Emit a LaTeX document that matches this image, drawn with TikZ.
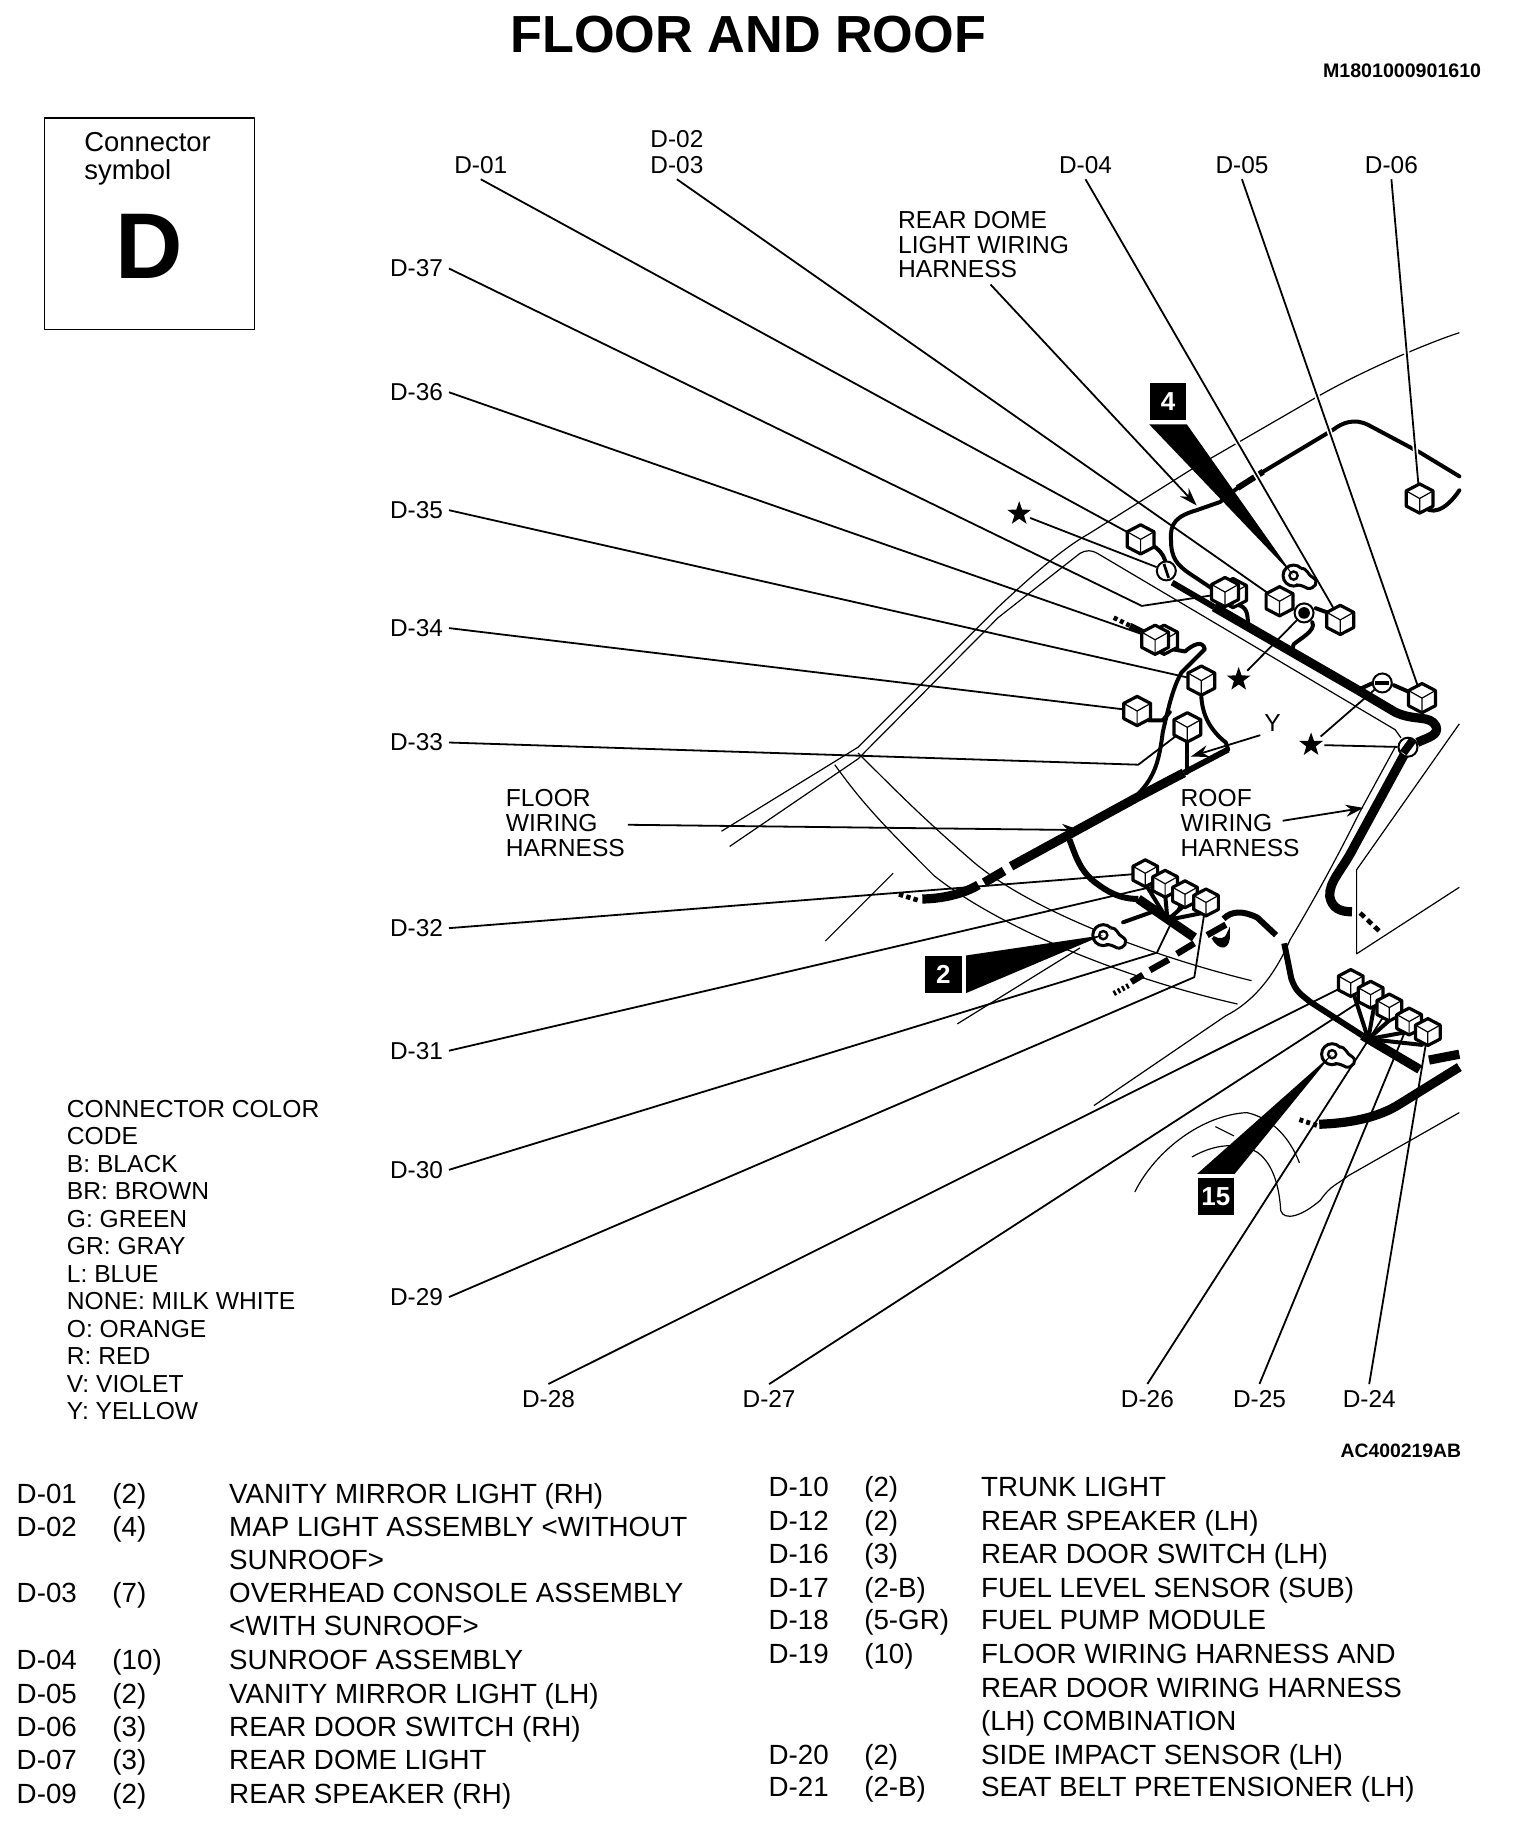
\documentclass[tikz,border=0pt]{standalone}
\usepackage{fontspec}
\setmainfont{Liberation Sans}
\usetikzlibrary{arrows.meta,shapes.geometric}
\tikzset{
  body/.style={line width=0.6pt,line join=round},
  ldr/.style={line width=0.9pt,line join=round},
  halo/.style={ldr,preaction={draw=white,line width=2.6pt}},
  arr/.style={ldr,-{Stealth[length=9pt,width=6pt]}},
  wirea/.style={line width=2pt,line join=round,line cap=round},
  wireb/.style={line width=3pt,line join=round},
  wirec/.style={line width=4.6pt,line join=round},
  dash1/.style={line width=3.2pt},
  lab/.style={font=\fontsize{12.2}{14}\selectfont,inner sep=0pt,outer sep=3pt,anchor=west},
  txt/.style={font=\fontsize{12.3}{14}\selectfont,inner sep=0pt,anchor=base west},
  tbl/.style={font=\fontsize{13.87}{16}\selectfont,inner sep=0pt,anchor=base west},
  badge/.style={fill=black,text=white,font=\bfseries\fontsize{13}{14}\selectfont,minimum size=18.4pt,inner sep=0pt},
  starn/.style={star,star points=5,star point ratio=2.5,fill=black,minimum size=12.5pt,inner sep=0pt},
  ring/.style={circle,draw=black,fill=white,line width=1pt,minimum size=9.5pt,inner sep=0pt},
  cube/.pic={
    \draw[fill=white,line width=1.6pt,line join=round] (0,-12.5)--(11.5,-6.5)--(11.5,6.5)--(0,12.5)--(-11.5,6.5)--(-11.5,-6.5)--cycle;
    \draw[line width=0.6pt] (-11.5,-6.5)--(0,0)--(11.5,-6.5) (0,0)--(0,12.5);
  },
  bulb/.pic={
    \draw[line width=1.5pt,fill=white] (0,0) circle (9);
    \draw[line width=1.5pt,fill=white] (6,-6) .. controls (12,-7) and (12,0) .. (17,2) .. controls (22,5) and (18,12) .. (12,11) .. controls (8,9) and (6,8) .. (2,8);
    \draw[line width=1.2pt] (0,0) circle (3.5);
  }
}
\begin{document}
\begin{tikzpicture}[x=0.58372pt,y=-0.58372pt]
\useasboundingbox (0,0) rectangle (1302,1567.5);
% title
\node[inner sep=0pt,font=\bfseries\fontsize{26.1}{30}\selectfont] (title) at (641,30) {FLOOR AND ROOF};
\node[inner sep=0pt,anchor=east,font=\bfseries\fontsize{9.8}{11}\selectfont] (mcode) at (1269,61) {M1801000901610};
\node[inner sep=0pt,anchor=east,font=\bfseries\fontsize{9.7}{11}\selectfont] (acode) at (1252,1243) {AC400219AB};
% symbol box
\draw[body] (38,101) rectangle (218,282);
\node[txt,font=\fontsize{13.7}{15}\selectfont] (csym1) at (72,130) {Connector};
\node[txt,font=\fontsize{13.7}{15}\selectfont] (csym2) at (72,154) {symbol};
\node[inner sep=0pt,font=\bfseries\fontsize{46.7}{50}\selectfont] (dsym) at (128,211) {D};
% body lines
\draw[body] (1250,285) .. controls (1225,293) and (1170,316) .. (1128,340) -- (1019,403) -- (933,457) .. controls (910,470) and (885,492) .. (855,520) -- (735,640) -- (618,712);
\draw[body] (625,725) -- (735,650) -- (855,529) -- (925,474) .. controls (930,471) and (935,471) .. (940,474) -- (1195,625) -- (1200,632);
\draw[body] (715,655) .. controls (740,690) and (760,710) .. (800,750) .. controls (850,790) and (950,835) .. (1060,860);
\draw[body] (735,645) .. controls (770,680) and (790,700) .. (830,735) .. controls (880,780) and (990,820) .. (1072,840);
\draw[body] (1195,640) -- (1165,695) .. controls (1140,745) and (1120,780) .. (1105,805) .. controls (1090,840) and (1070,860) .. (1050,870) -- (937,947);
\draw[body] (1250,620) -- (1162,745) -- (1162,817) -- (1250,760);
\draw[body] (707,806) -- (765,748);
\draw[body] (820,877) -- (925,812);
\draw[body] (972,1021) .. controls (990,985) and (1030,955) .. (1068,953) .. controls (1090,958) and (1105,975) .. (1113,996);
\draw[body] (1021,991) .. controls (1040,980) and (1060,978) .. (1077,987) .. controls (1092,998) and (1096,1020) .. (1097,1037) .. controls (1100,1046) and (1115,1042) .. (1131,1028) .. controls (1140,1015) and (1145,1015) .. (1155,1007) -- (1250,953);
\draw[body] (1041,965) -- (1057,973);
% wires: roof
\draw[wirea] (1250,408) -- (1217,388) -- (1172,364) .. controls (1160,358) and (1150,362) .. (1142,368) -- (1082,404);
\draw[wireb] (1082,404) -- (1060,418);
\draw[wirea] (1060,418) -- (1045,430) -- (1025,437) .. controls (1008,442) and (1002,448) .. (1003,462) .. controls (1003,478) and (1008,484) .. (1020,492) -- (1050,512);
\draw[wireb] (1004,499) -- (1040,520);
\draw[wirec] (1040,520) -- (1163,591);
\draw[wirec] (1163,591) -- (1195,610) .. controls (1212,618) and (1225,612) .. (1230,622) .. controls (1233,630) and (1222,632) .. (1214,636);
\draw[wirec] (1203,646) -- (1160,725) .. controls (1150,745) and (1138,755) .. (1139,768) .. controls (1141,778) and (1148,781) .. (1158,781);
\draw[wirea,line cap=butt,dash pattern=on 3pt off 2pt,line width=2.3pt] (1165,782) -- (1183,799);
% wires: roof connectors
\draw[wirea] (1216,418) -- (1218,432) .. controls (1225,442) and (1238,438) .. (1250,420);
\draw[wirea] (987,467) .. controls (992,470) and (996,474) .. (998,480);
\draw[wirea] (1060,518) .. controls (1068,520) and (1069,525) .. (1069,538);
\draw[wirea] (1004,556) -- (1015,558) .. controls (1022,552) and (1030,548) .. (1032,556) -- (1012,576) .. controls (1004,590) and (1000,610) .. (996,627) .. controls (993,650) and (990,665) .. (974,681);
\draw[wirea,line cap=butt,dash pattern=on 2pt off 1.5pt,line width=2.3pt] (954,529) -- (968,536);
\draw[wireb] (968,536) -- (982,543);
\draw[wirea] (1029,597) .. controls (1030,612) and (1036,625) .. (1050,636) -- (1052,642);
\draw[wirea] (984,617) -- (996,617) -- (1002,610);
\draw[wirea] (1017,636) -- (1017,662);
\draw[wirea] (1127,521) -- (1138,525);
\draw[wirea] (1124,533) .. controls (1128,540) and (1112,548) .. (1108,552) -- (1106,560);
\draw[wirea] (1163,591) -- (1176,585);
\draw[wirea] (1194,587) -- (1210,594);
% wires: floor
\draw[wireb] (1052,642) -- (1014,662);
\draw[wirec] (1014,662) -- (974,683) -- (866,742);
\draw[wirec] (860,746) -- (843,756);
\draw[wirec] (838,758) .. controls (825,766) and (805,770) .. (790,770);
\draw[wirea,line cap=butt,dash pattern=on 2.2pt off 1.6pt,line width=2.4pt] (770,766) -- (786,771);
\draw[wireb] (916,719) .. controls (922,735) and (925,745) .. (937,755) .. controls (950,765) and (960,770) .. (975,770);
\draw[wirec] (975,770) -- (1023,803);
\foreach \xa/\ya in {981/757,998/766,1014/776,1030/782}{\draw[wirea] (\xa,\ya) -- (1000,788);}
\draw[wirea] (962,790) -- (990,780);
\draw[wireb] (1048,787) .. controls (1055,780) and (1065,780) .. (1077,786) -- (1093,801);
\draw[wireb] (1100,808) -- (1106,838) .. controls (1110,850) and (1115,852) .. (1122,858) -- (1167,887);
\draw[wirec] (1167,887) -- (1216,916);
\foreach \xa/\ya in {1160/853,1177/862,1190/874,1205/884,1218/895}{\draw[wirea] (\xa,\ya) -- (1172,890);}
\draw[wirec] (1224,908) -- (1250,903);
\draw[wirec] (1250,914) -- (1200,945) .. controls (1180,958) and (1155,962) .. (1130,963);
\draw[wirea,line cap=butt,dash pattern=on 2pt off 1.6pt,line width=2.4pt] (1113,959) -- (1128,964);
\draw[wirea,line cap=butt,dash pattern=on 1.2pt off 1.2pt,line width=2.6pt] (954,851) -- (967,844);
\foreach \xa/\ya/\xb/\yb in {969/841/979/835,985/831/1001/822,1008/817/1023/808,1034/801/1050/792}{\draw[dash1] (\xa,\ya) -- (\xb,\yb);}
\draw[line width=1.6pt,fill=black] (1039,803) .. controls (1045,814) and (1053,812) .. (1052,800) .. controls (1050,806) and (1044,806) .. (1039,803);
% labels
\foreach \nm/\xx/\yy in {01/384/141,02/552/119,03/552/141,04/902/141,05/1036/141,06/1164/141,37/329/230,36/329/336,35/329/437,34/329/538,33/329/636,32/329/795,31/329/900,30/329/1002,29/329/1111,28/442/1198,27/631/1198,26/955/1198,25/1051/1198,24/1145/1198}{
  \node[lab] (l\nm) at (\xx,\yy) {D-\nm};
}
\node[txt] (rd1) at (769,196) {REAR DOME};
\node[txt] (rd2) at (769,217) {LIGHT WIRING};
\node[txt] (rd3) at (769,238) {HARNESS};
\node[txt] (fw1) at (433,691) {FLOOR};
\node[txt] (fw2) at (433,712) {WIRING};
\node[txt] (fw3) at (433,734) {HARNESS};
\node[txt] (rw1) at (1011,691) {ROOF};
\node[txt] (rw2) at (1011,712) {WIRING};
\node[txt] (rw3) at (1011,734) {HARNESS};
\node[inner sep=0pt,outer sep=2pt,font=\fontsize{12.3}{14}\selectfont] (ylab) at (1090,619) {Y};
% legend
\foreach \t [count=\i from 0] in {CONNECTOR COLOR,CODE,B: BLACK,BR: BROWN,G: GREEN,GR: GRAY,L: BLUE,NONE: MILK WHITE,O: ORANGE,R: RED,V: VIOLET,Y: YELLOW}{
  \node[txt] (leg\i) at (57,{957+23.54*\i}) {\t};
}
% tables
\foreach \a/\b/\c/\yy [count=\i] in {
 D-01/(2)/VANITY MIRROR LIGHT (RH)/1288,
 D-02/(4)/MAP LIGHT ASSEMBLY <WITHOUT/1316,
 //SUNROOF>/1344,
 D-03/(7)/OVERHEAD CONSOLE ASSEMBLY/1373,
 //<WITH SUNROOF>/1401,
 D-04/(10)/SUNROOF ASSEMBLY/1430,
 D-05/(2)/VANITY MIRROR LIGHT (LH)/1459,
 D-06/(3)/REAR DOOR SWITCH (RH)/1487,
 D-07/(3)/REAR DOME LIGHT/1516,
 D-09/(2)/REAR SPEAKER (RH)/1545}{
  \node[tbl] (ta\i) at (14,\yy) {\a};
  \node[tbl] (tb\i) at (96,\yy) {\b};
  \node[tbl] (tc\i) at (196,\yy) {\c};
}
\foreach \a/\b/\c/\yy [count=\i] in {
 D-10/(2)/TRUNK LIGHT/1282,
 D-12/(2)/REAR SPEAKER (LH)/1311,
 D-16/(3)/REAR DOOR SWITCH (LH)/1339,
 D-17/(2-B)/FUEL LEVEL SENSOR (SUB)/1368,
 D-18/(5-GR)/FUEL PUMP MODULE/1396,
 D-19/(10)/FLOOR WIRING HARNESS AND/1425,
 //REAR DOOR WIRING HARNESS/1454,
 //(LH) COMBINATION/1482,
 D-20/(2)/SIDE IMPACT SENSOR (LH)/1511,
 D-21/(2-B)/SEAT BELT PRETENSIONER (LH)/1539}{
  \node[tbl] (ua\i) at (658,\yy) {\a};
  \node[tbl] (ub\i) at (740,\yy) {\b};
  \node[tbl] (uc\i) at (840,\yy) {\c};
}
% connector anchors
\coordinate (c01) at (977,462);
\coordinate (c02) at (1096,515);
\coordinate (c04) at (1148,531);
\coordinate (c05) at (1218,598);
\coordinate (c06) at (1216,427);
\coordinate (c37) at (1051,508);
\coordinate (c36) at (992,548);
\coordinate (c35) at (1029,583);
\coordinate (c34) at (974,609);
\coordinate (c33) at (1017,623);
\coordinate (c32) at (981,748);
\coordinate (c31) at (998,757);
\coordinate (c30) at (1015,766);
\coordinate (c29) at (1033,773);
\coordinate (c28) at (1157,842);
\coordinate (c27) at (1174,852);
\coordinate (c26) at (1190,863);
\coordinate (c25) at (1207,875);
\coordinate (c24) at (1223,884);
\coordinate (b4) at (1108,493);
\coordinate (b2) at (945,801);
\coordinate (b15) at (1141,903);
\coordinate (arrd) at (1025,433);
\coordinate (arfl) at (925,711);
\coordinate (arrw) at (1168,692);
\coordinate (ary) at (1020,648);
% leaders
\draw[ldr] (l01.south) -- (c01);
\draw[ldr] (l03.south) -- (c02);
\draw[halo] (l04.south) -- (c04);
\draw[halo] (l05.south) -- (c05);
\draw[halo] (l06.south) -- (c06);
\draw[ldr] (l37.east) -- (978,519) -- (c37);
\draw[ldr] (l36.east) -- (c36);
\draw[ldr] (l35.east) -- (c35);
\draw[ldr] (l34.east) -- (c34);
\draw[ldr] (l33.east) -- (975,655) -- (c33);
\draw[ldr] (l32.east) -- (c32);
\draw[ldr] (l31.east) -- (c31);
\draw[ldr] (l30.east) -- (991,816) -- (c30);
\draw[ldr] (l29.east) -- (1023,837) -- (c29);
\draw[ldr] (l28.north) -- (c28);
\draw[ldr] (l27.north) -- (c27);
\draw[ldr] (l26.north) -- (c26);
\draw[ldr] (l25.north) -- (c25);
\draw[ldr] (l24.north) -- (c24);
\draw[arr] (rd3.south east) ++(-13.5pt,-3pt) -- (arrd);
\draw[arr] (fw2.east) ++(15pt,-1pt) -- (arfl);
\draw[arr] (rw2.east) ++(5pt,1pt) -- (arrw);
\draw[arr] (ylab.south west) -- (ary);
% cubes
\foreach \n in {01,02,04,05,06,35,33,34}{\pic at (c\n) {cube};}
\pic at ([xshift=3pt]c37) {cube};
\pic at ([xshift=-1pt,yshift=0.5pt]c37) {cube};
\pic at ([xshift=3pt]c36) {cube};
\pic at ([xshift=-1.5pt]c36) {cube};
\foreach \n in {32,31,30,29,28,27,26,25,24}{\pic[scale=.92] at (c\n) {cube};}
% bulbs
\pic at (b4) {bulb};
\pic at (b2) {bulb};
\pic at (b15) {bulb};
% black badges and wedges
\node[badge] (n4) at (1000.5,344) {4};
\node[badge] (n2) at (808,834.5) {2};
\node[badge] (n15) at (1041.5,1025) {15};
\fill ([yshift=-2pt]n4.south west) -- ([yshift=-2pt]n4.south east) -- (b4) -- cycle;
\fill ([xshift=2pt]n2.north east) -- ([xshift=2pt]n2.south east) -- (b2) -- cycle;
\fill ([yshift=2pt]n15.north west) -- ([yshift=2pt]n15.north east) -- (b15) -- cycle;
% rings
\node[ring] (ci1) at (999,489) {};
\draw[line width=1.4pt] (997,483) -- (1001,495);
\node[ring,fill=white] (ci2) at (1117,525) {};
\fill (ci2) circle (5);
\node[ring] (ci3) at (1184,585) {};
\draw[line width=2pt] (1178,585) -- (1190,585);
\node[ring,ellipse] (ci4) at (1206,640) {};
\draw[line width=4pt] (1202,645) -- (1210,634);
% stars
\node[starn] (s1) at (873,440) {};
\node[starn] (s2) at (1061,582) {};
\node[starn] (s3) at (1123,638) {};
\draw[ldr,shorten <=3pt] (s1) -- (ci1);
\draw[ldr,shorten <=3pt] (s2) -- (ci2);
\draw[ldr,shorten <=3pt] (s3) -- (ci3);
\draw[ldr,shorten <=3pt] (s3) -- (ci4);
\end{tikzpicture}
\end{document}
